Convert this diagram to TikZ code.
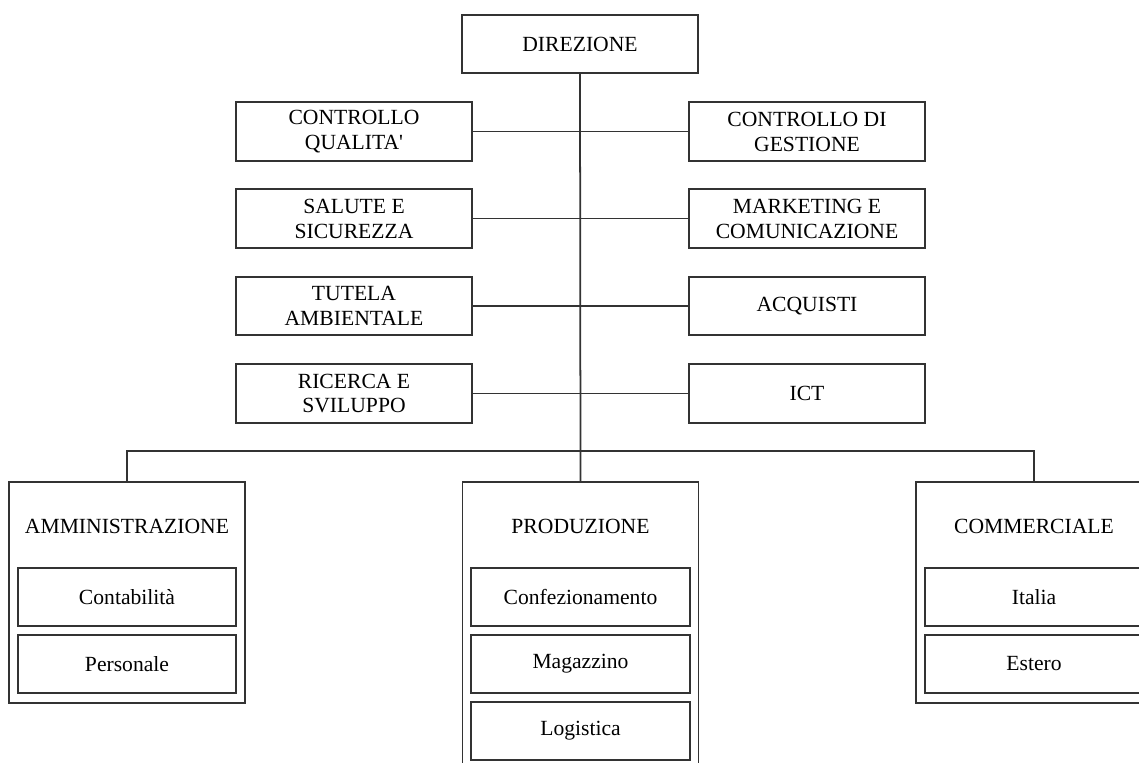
\documentclass[tikz,border=0pt]{standalone}
\usepackage{fontspec}
\setmainfont{Liberation Serif}
\usetikzlibrary{positioning}
\definecolor{ln}{rgb}{0.2, 0.2, 0.2}
\tikzset{
  box/.style={draw=ln, line width=1pt, minimum width=4.72cm, minimum height=1.17cm,
    inner sep=0pt, align=center, font=\fontsize{12.3}{14.2}\selectfont},
  subbox/.style={box, minimum width=4.37cm},
  dept/.style={draw=ln, line width=1pt, minimum width=4.72cm, anchor=north, inner sep=0pt},
  title/.style={font=\fontsize{12.3}{14.2}\selectfont},
  wire/.style={draw=ln, line width=1pt}
}

\begin{document}
\begin{tikzpicture}[x=0.02cm, y=-0.02cm]
  \useasboundingbox (0,0) rectangle (1139,762);
  \clip (0,0) rectangle (1139,762);

  % top
  \node [box] (dir) at (580,44) {DIREZIONE};

  % staff, left and right of the trunk
  \node [box] (cq)  at (354,131.5) {CONTROLLO\\QUALITA\textquotesingle};
  \node [box] (ss)  at (354,218.5) {SALUTE E\\SICUREZZA};
  \node [box] (ta)  at (354,306)   {TUTELA\\AMBIENTALE};
  \node [box] (rs)  at (354,393.5) {RICERCA E\\SVILUPPO};
  \node [box] (cg)  at (807,131.5) {CONTROLLO DI\\GESTIONE};
  \node [box] (mc)  at (807,218.5) {MARKETING E\\COMUNICAZIONE};
  \node [box] (acq) at (807,306)   {ACQUISTI};
  \node [box] (ict) at (807,393.5) {ICT};

  % departments
  \node [dept, minimum height=4.42cm] (amm)  at (127,481)  {};
  \node [dept, minimum height=5.76cm] (prod) at (580.5,481) {};
  \node [dept, minimum height=4.42cm] (comm) at (1034,481) {};
  \node [title] (ammT)  at (127,526)   {AMMINISTRAZIONE};
  \node [title] (prodT) at (580.5,526) {PRODUZIONE};
  \node [title] (commT) at (1034,526)  {COMMERCIALE};

  \node [subbox] (conta) at (127,597)   {Contabilità};
  \node [subbox] (pers)  at (127,664)   {Personale};
  \node [subbox] (conf)  at (580.5,597) {Confezionamento};
  \node [subbox] (mag)   at (580.5,664) {Magazzino};
  \node [subbox] (log)   at (580.5,731) {Logistica};
  \node [subbox] (ita)   at (1034,597)  {Italia};
  \node [subbox] (est)   at (1034,664)  {Estero};

  % connectors
  \coordinate (bus) at (580.5,451);
  \draw [wire] (dir.south) -- (prod.north);
  \draw [wire] (amm.north) |- (bus) -| (comm.north);
  \draw [wire] (cq.east) -- (cg.west);
  \draw [wire] (ss.east) -- (mc.west);
  \draw [wire] (ta.east) -- (acq.west);
  \draw [wire] (rs.east) -- (ict.west);
\end{tikzpicture}
\end{document}
